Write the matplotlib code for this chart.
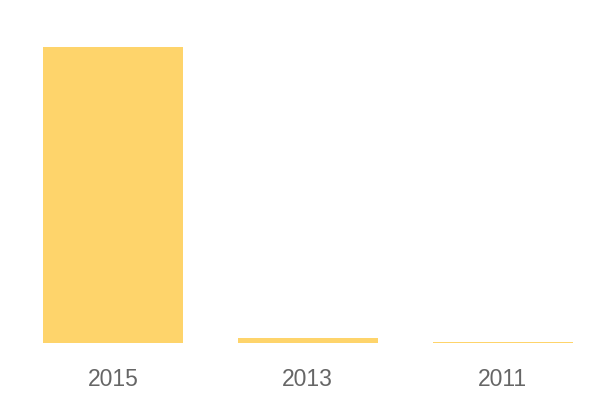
import matplotlib.pyplot as plt

# valeurs
years = ["2015", "2013", "2011"]
values = [1000, 17, 3.5]

fig = plt.figure(figsize=(6, 4), dpi=100)
# axes : gauche ~15px, droite 600px, bas 343px, haut 47px
ax = fig.add_axes([15.5 / 600, (400 - 343) / 400, 584.5 / 600, (343 - 47) / 400])

ax.bar(range(len(years)), values, width=0.718, color="#fed46b")
ax.set_xlim(-0.5, len(years) - 0.5)
ax.set_ylim(0, max(values))

for s in ax.spines.values():
    s.set_visible(False)
ax.set_yticks([])
ax.set_xticks(range(len(years)))
ax.set_xticklabels(years, fontsize=16.5, color="#666666", family="Liberation Sans")
ax.tick_params(axis="x", length=0, pad=18)

fig.savefig("out.png", dpi=100)
